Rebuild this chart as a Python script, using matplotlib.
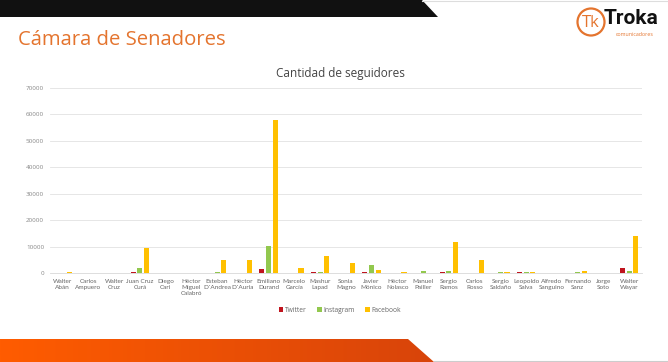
import numpy as np
import matplotlib.pyplot as plt
from matplotlib.patches import Polygon, Circle
from matplotlib.colors import LinearSegmentedColormap

# datos
senadores = ["Walter\nAbán", "Carlos\nAmpuero", "Walter\nCruz", "Juan Cruz\nCurá", "Diego\nCari",
             "Héctor\nMiguel\nCalabró", "Esteban\nD´Andrea", "Héctor\nD´Auria", "Emiliano\nDurand",
             "Marcelo\nGarcía", "Mashur\nLapad", "Sonia\nMagno", "Javier\nMónico", "Héctor\nNolasco",
             "Manuel\nPailler", "Sergio\nRamos", "Carlos\nRosso", "Sergio\nSaldaño", "Leopoldo\nSalva",
             "Alfredo\nSanguino", "Fernando\nSanz", "Jorge\nSoto", "Walter\nWayar"]
twitter = [0, 0, 0, 200, 0, 0, 0, 0, 1400, 0, 300, 0, 200, 0, 0, 200, 0, 0, 200, 0, 0, 0, 2000]
instagram = [0, 0, 0, 2000, 0, 0, 500, 0, 10100, 0, 500, 0, 3000, 0, 700, 900, 0, 400, 200, 0, 200, 0, 900]
facebook = [400, 0, 0, 9500, 0, 0, 5000, 5000, 57900, 2000, 6500, 3900, 1000, 400, 0, 11600, 5000, 200, 300, 0, 900, 0, 14000]
series = ["Twitter", "Instagram", "Facebook"]
colores = ["#C0141E", "#92C84E", "#FFC000"]
yticks = np.arange(0, 70001, 10000)

W, H = 668, 362
plt.rcParams['font.family'] = ['Open Sans', 'DejaVu Sans']
fig = plt.figure(figsize=(W/100, H/100), dpi=100)

# decoracion de la diapositiva (coordenadas en pixeles)
deco = fig.add_axes([0, 0, 1, 1])
deco.axis('off')
deco.add_patch(Polygon([[0, 0], [422, 0], [438, 17], [0, 17]], closed=True, color='#111111', lw=0))
deco.plot([422, W], [0.8, 0.8], color='#dddddd', lw=0.8)
# banda inferior con degradado
grad = np.linspace(0, 1, 256).reshape(1, -1)
cm_band = LinearSegmentedColormap.from_list('band', ['#FF5C00', '#D8440A'])
im = deco.imshow(grad, extent=[0, 434, 362, 339], cmap=cm_band, aspect='auto', zorder=1)
band = Polygon([[0, 339], [408, 339], [434, 362], [0, 362]], closed=True, transform=deco.transData)
im.set_clip_path(band)
deco.set_xlim(0, W)
deco.set_ylim(H, 0)
deco.plot([434, W], [361, 361], color='#cccccc', lw=0.8)

deco.text(18, 40, "Cámara de Senadores", color='#E4742E', fontsize=14.6, va='center', ha='left')
# logo
deco.add_patch(Circle((591, 22), 13.5, fill=False, ec='#E4742E', lw=1.6))
deco.text(591, 23, "Tk", color='#E4742E', fontsize=12, ha='center', va='center')
deco.text(604, 19, "Troka", color='#111111', fontsize=15, fontweight='bold', ha='left', va='center',
          family=['Roboto', 'DejaVu Sans'])
deco.text(616, 35, "comunicadores", color='#E4742E', fontsize=3.8, ha='left', va='center')

deco.text(340, 73, "Cantidad de seguidores", color='#444444', fontsize=8.5, ha='center', va='center')

# grafico
ax = fig.add_axes([49.7/W, 1 - 273/H, (642 - 49.7)/W, (273 - 88)/H])
x = np.arange(len(senadores))
bw = 0.2
for i, (nombre, vals) in enumerate(zip(series, [twitter, instagram, facebook])):
    ax.bar(x + (i - 1) * 0.26, vals, width=bw, color=colores[i], label=nombre, zorder=3)

ax.set_xlim(-0.5, len(senadores) - 0.5)
ax.set_ylim(0, 70000)
ax.set_yticks(yticks)
ax.set_yticklabels([str(v) for v in yticks], fontsize=4.5, color='#888888')
ax.set_xticks(x)
ax.set_xticklabels(senadores, fontsize=4.6, color='#666666', linespacing=1.3,
                   family=['Lato', 'DejaVu Sans'])
ax.tick_params(length=0, pad=4)
ax.grid(axis='y', color='#e2e2e2', lw=0.6, zorder=0)
for s in ['top', 'right', 'left']:
    ax.spines[s].set_visible(False)
ax.spines['bottom'].set_color('#d8d8d8')
ax.spines['bottom'].set_linewidth(0.6)

ax.legend(loc='center', bbox_to_anchor=(340/W, 1 - 310/H), bbox_transform=fig.transFigure,
          ncol=3, frameon=False, fontsize=4.8, handlelength=0.7, handleheight=0.7,
          handletextpad=0.3, columnspacing=1.5, labelcolor='#666666')

fig.savefig("out.png", dpi=100)
